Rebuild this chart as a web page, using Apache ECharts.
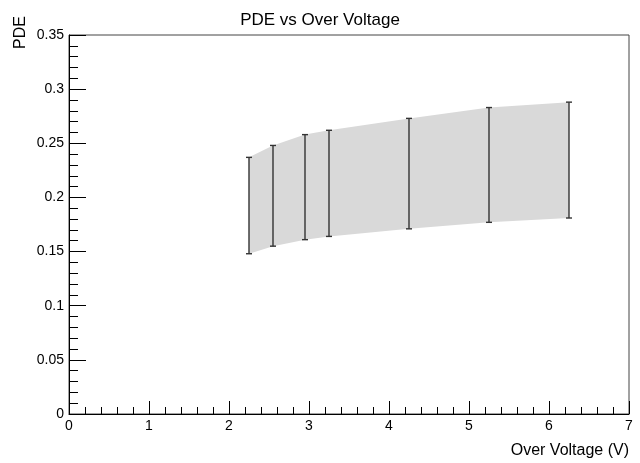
<!DOCTYPE html>
<html>
<head>
<meta charset="utf-8">
<script src="https://cdn.jsdelivr.net/npm/echarts@6/dist/echarts.min.js"></script>
<style>
html,body{margin:0;padding:0;background:#fff;}
#chart{width:640px;height:463px;}
</style>
</head>
<body>
<div id="chart"></div>
<script>
var overVoltage = [2.25, 2.55, 2.95, 3.25, 4.25, 5.25, 6.25];
var pdeLow  = [0.148, 0.155, 0.161, 0.164, 0.171, 0.177, 0.181];
var pdeHigh = [0.237, 0.248, 0.258, 0.262, 0.273, 0.283, 0.288];
var xTicks = [0, 1, 2, 3, 4, 5, 6, 7];
var yTicks = [0, 0.05, 0.1, 0.15, 0.2, 0.25, 0.3, 0.35];

var rows = overVoltage.map(function (v, i) { return [v, pdeLow[i], pdeHigh[i]]; });
var FONT = '"Liberation Sans", Arial, sans-serif';

var chart = echarts.init(document.getElementById('chart'), null, {renderer: 'canvas'});
chart.setOption({
  animation: false,
  backgroundColor: '#ffffff',
  title: {
    text: 'PDE vs Over Voltage',
    left: 'center',
    top: 7,
    textStyle: {fontFamily: FONT, fontSize: 17, fontWeight: 'normal', color: '#000'}
  },
  grid: {
    left: 69, right: 11, top: 35, bottom: 49,
    show: true, borderColor: '#444', borderWidth: 1, backgroundColor: 'transparent'
  },
  xAxis: {
    type: 'value',
    min: xTicks[0], max: xTicks[xTicks.length - 1], interval: 1,
    name: 'Over Voltage (V)',
    nameLocation: 'end',
    nameGap: 0,
    nameTextStyle: {fontFamily: FONT, fontSize: 16, color: '#000', align: 'right', verticalAlign: 'top', padding: [29, 0, 0, 0]},
    axisLine: {show: true, onZero: false, lineStyle: {color: '#000', width: 1}},
    axisTick: {show: true, inside: true, length: 13, lineStyle: {color: '#000'}},
    minorTick: {show: true, splitNumber: 5, length: 7, lineStyle: {color: '#000'}},
    axisLabel: {fontFamily: FONT, fontSize: 14, color: '#000', margin: 5},
    splitLine: {show: false}
  },
  yAxis: {
    type: 'value',
    min: yTicks[0], max: yTicks[yTicks.length - 1], interval: 0.05,
    axisLine: {show: true, onZero: false, lineStyle: {color: '#000', width: 1}},
    axisTick: {show: true, inside: true, length: 17, lineStyle: {color: '#000'}},
    minorTick: {show: true, splitNumber: 5, length: 9, lineStyle: {color: '#000'}},
    axisLabel: {fontFamily: FONT, fontSize: 14, color: '#000', margin: 5},
    splitLine: {show: false}
  },
  graphic: [{
    type: 'text',
    x: 13, y: 16,
    rotation: Math.PI / 2,
    style: {text: 'PDE', fontFamily: FONT, fontSize: 16, fill: '#000', align: 'right', verticalAlign: 'top'}
  }],
  series: [{
    type: 'custom',
    name: 'band',
    data: rows,
    encode: {x: 0, y: [1, 2]},
    z: 1,
    renderItem: function (params, api) {
      if (params.dataIndex !== 0) return null;
      var pts = [];
      for (var i = 0; i < rows.length; i++) pts.push(api.coord([rows[i][0], rows[i][2]]));
      for (var j = rows.length - 1; j >= 0; j--) pts.push(api.coord([rows[j][0], rows[j][1]]));
      return {type: 'polygon', shape: {points: pts}, style: {fill: '#d9d9d9', stroke: null}};
    }
  }, {
    type: 'custom',
    name: 'errors',
    data: rows,
    encode: {x: 0, y: [1, 2]},
    z: 2,
    renderItem: function (params, api) {
      var lo = api.coord([api.value(0), api.value(1)]);
      var hi = api.coord([api.value(0), api.value(2)]);
      var st = {stroke: '#333', lineWidth: 1.4};
      return {type: 'group', children: [
        {type: 'line', shape: {x1: lo[0], y1: lo[1], x2: hi[0], y2: hi[1]}, style: st},
        {type: 'line', shape: {x1: lo[0] - 3, y1: lo[1], x2: lo[0] + 3, y2: lo[1]}, style: st},
        {type: 'line', shape: {x1: hi[0] - 3, y1: hi[1], x2: hi[0] + 3, y2: hi[1]}, style: st}
      ]};
    }
  }]
});
</script>
</body>
</html>
